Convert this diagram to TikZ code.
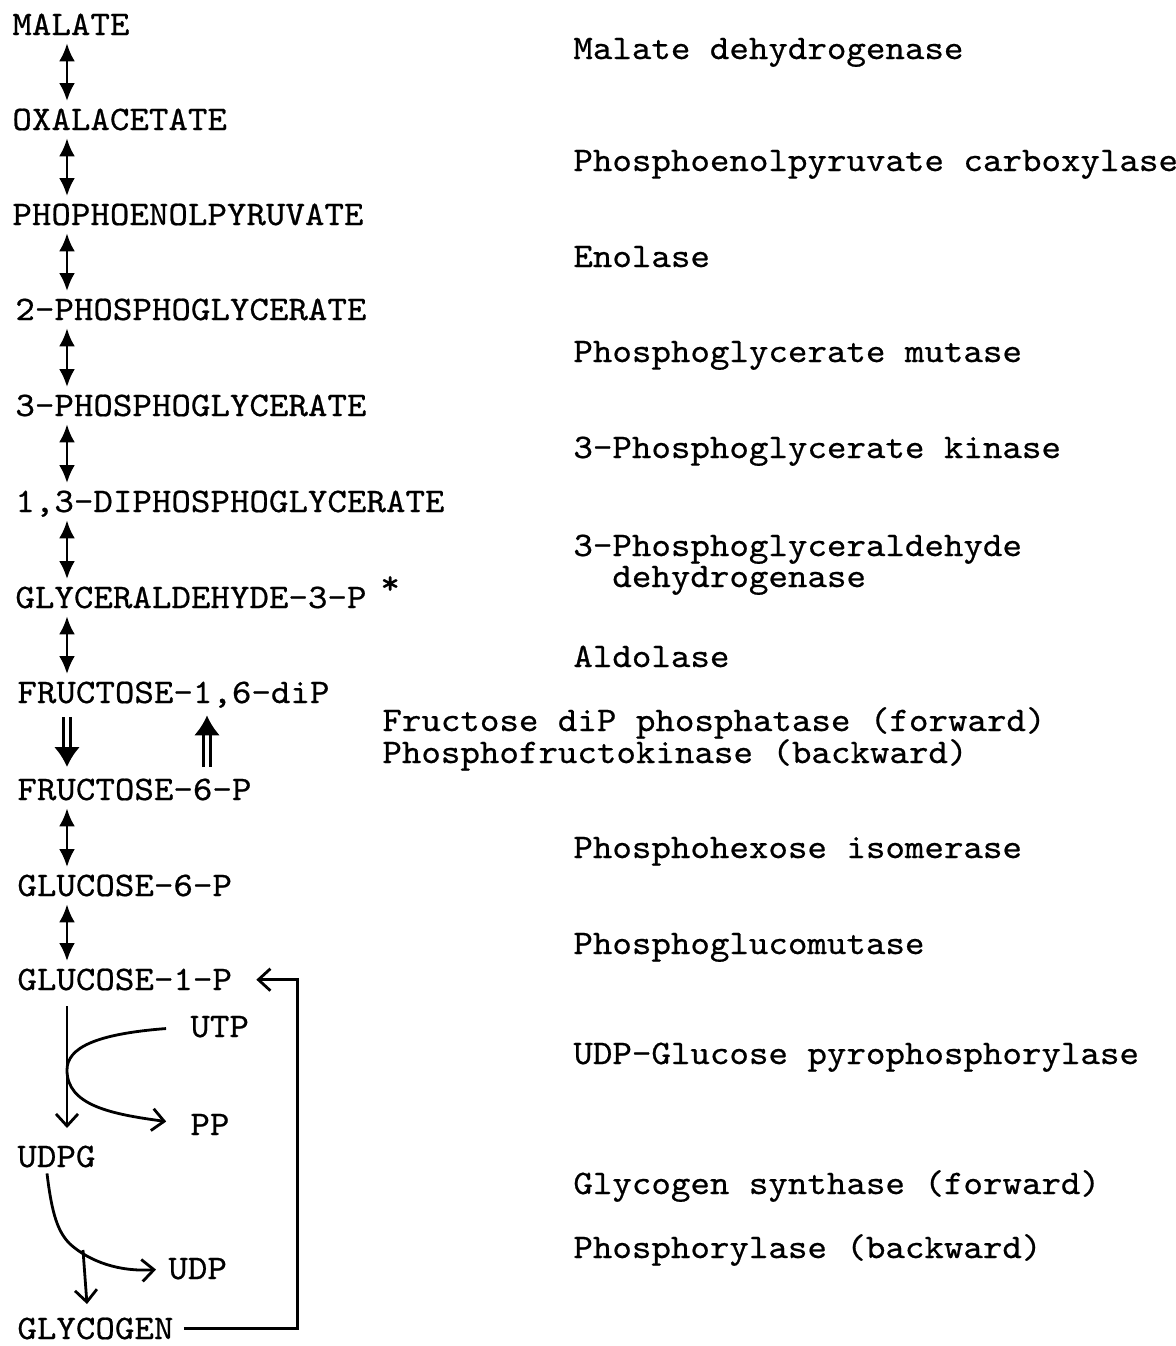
\documentclass[tikz,border=0pt]{standalone}
\usepackage{fontspec}
\setmonofont{lmmono10-regular.otf}[FakeStretch=1.08,FakeBold=0.6]
\usetikzlibrary{arrows.meta,calc}
\tikzset{
  met/.style={anchor=base west,inner sep=0pt,text height=10.3pt,text depth=0pt,
    font=\ttfamily\fontsize{17.2}{21}\selectfont},
  enz/.style={met},
  rev/.style={{Latex[length=9pt,width=8pt]}-{Latex[length=9pt,width=8pt]},
    line width=1.3pt,shorten <=4pt,shorten >=4pt},
  dbl/.style={-{Latex[length=10pt,width=13pt]},double,double distance=1.8pt,line width=1.4pt},
  barb/.style={-{Straight Barb[length=6pt,width=11pt]},line width=1.4pt}
}
\begin{document}
\begin{tikzpicture}[x=0.5pt,y=-0.5pt]
\useasboundingbox (0,0) rectangle (1176,1346);
\coordinate (ax) at (67,0);
\coordinate (bx) at (207,0);
% metabolites
\node[met] (mal) at (12,35) {MALATE};
\node[met] (oaa) at (12,130) {OXALACETATE};
\node[met] (pep) at (12,225) {PHOPHOENOLPYRUVATE};
\node[met] (pgtwo) at (15,320) {2-PHOSPHOGLYCERATE};
\node[met] (pgthree) at (15,416) {3-PHOSPHOGLYCERATE};
\node[met] (dpg) at (15,512) {1,3-DIPHOSPHOGLYCERATE};
\node[met] (gap) at (15,608) {GLYCERALDEHYDE-3-P};
\node[met] (ast) at (380,594) {*};
\node[met] (fdp) at (17,703) {FRUCTOSE-1,6-diP};
\node[met] (f6p) at (17,800) {FRUCTOSE-6-P};
\node[met] (g6p) at (17,896) {GLUCOSE-6-P};
\node[met] (g1p) at (17,990) {GLUCOSE-1-P};
\node[met] (utp) at (190,1037) {UTP};
\node[met] (pp) at (190,1135) {PP};
\node[met] (udpg) at (17,1167) {UDPG};
\node[met] (udp) at (168,1279) {UDP};
\node[met] (glyc) at (17,1339) {GLYCOGEN};
% enzymes
\node[enz] (e1) at (573,59) {Malate dehydrogenase};
\node[enz] (e2) at (573,171) {Phosphoenolpyruvate carboxylase};
\node[enz] (e3) at (573,267) {Enolase};
\node[enz] (e4) at (573,362) {Phosphoglycerate mutase};
\node[enz] (e5) at (573,458) {3-Phosphoglycerate kinase};
\node[enz] (e6) at (573,556) {3-Phosphoglyceraldehyde};
\node[enz] (e6b) at (612,587) {dehydrogenase};
\node[enz] (e7) at (573,667) {Aldolase};
\node[enz] (e8) at (382,731) {Fructose diP phosphatase (forward)};
\node[enz] (e8b) at (382,763) {Phosphofructokinase (backward)};
\node[enz] (e9) at (573,858) {Phosphohexose isomerase};
\node[enz] (e10) at (573,954) {Phosphoglucomutase};
\node[enz] (e11) at (573,1064) {UDP-Glucose pyrophosphorylase};
\node[enz] (e12) at (573,1194) {Glycogen synthase (forward)};
\node[enz] (e13) at (573,1258) {Phosphorylase (backward)};
% reversible steps
\foreach \a/\b in {mal/oaa,oaa/pep,pep/pgtwo,pgtwo/pgthree,pgthree/dpg,dpg/gap,gap/fdp,f6p/g6p,g6p/g1p}
  \draw[rev] (\a.south -| ax) -- (\b.north -| ax);
% fructose diP / fructose-6-P
\draw[dbl,shorten <=7pt,shorten >=6pt] (fdp.south -| ax) -- (f6p.north -| ax);
\draw[dbl,shorten <=6pt,shorten >=6pt] (f6p.north -| bx) -- (fdp.south -| bx);
% UDPG branch
\draw[barb,shorten <=8pt,shorten >=9pt] (g1p.south -| ax) -- (udpg.north -| ax);
\draw[barb,shorten <=12pt,shorten >=12pt] (utp.west) .. controls (95,1034) and (67,1048) .. (67,1070)
  .. controls (67,1105) and (110,1114) .. (pp.west);
% glycogen branch
\draw[barb,shorten >=6pt] ($(udpg.south west)+(30,6)$) .. controls (52,1215) and (58,1232) .. (70,1244)
  .. controls (90,1262) and (120,1272) .. (udp.west);
\draw[barb,shorten >=7pt] (83,1250) -- (glyc.north -| 88,0);
% phosphorylase return
\draw[barb,shorten <=5pt,shorten >=12pt] (glyc.east) -| ($(g1p.east)+(65,0)$) -- (g1p.east);
\end{tikzpicture}
\end{document}
